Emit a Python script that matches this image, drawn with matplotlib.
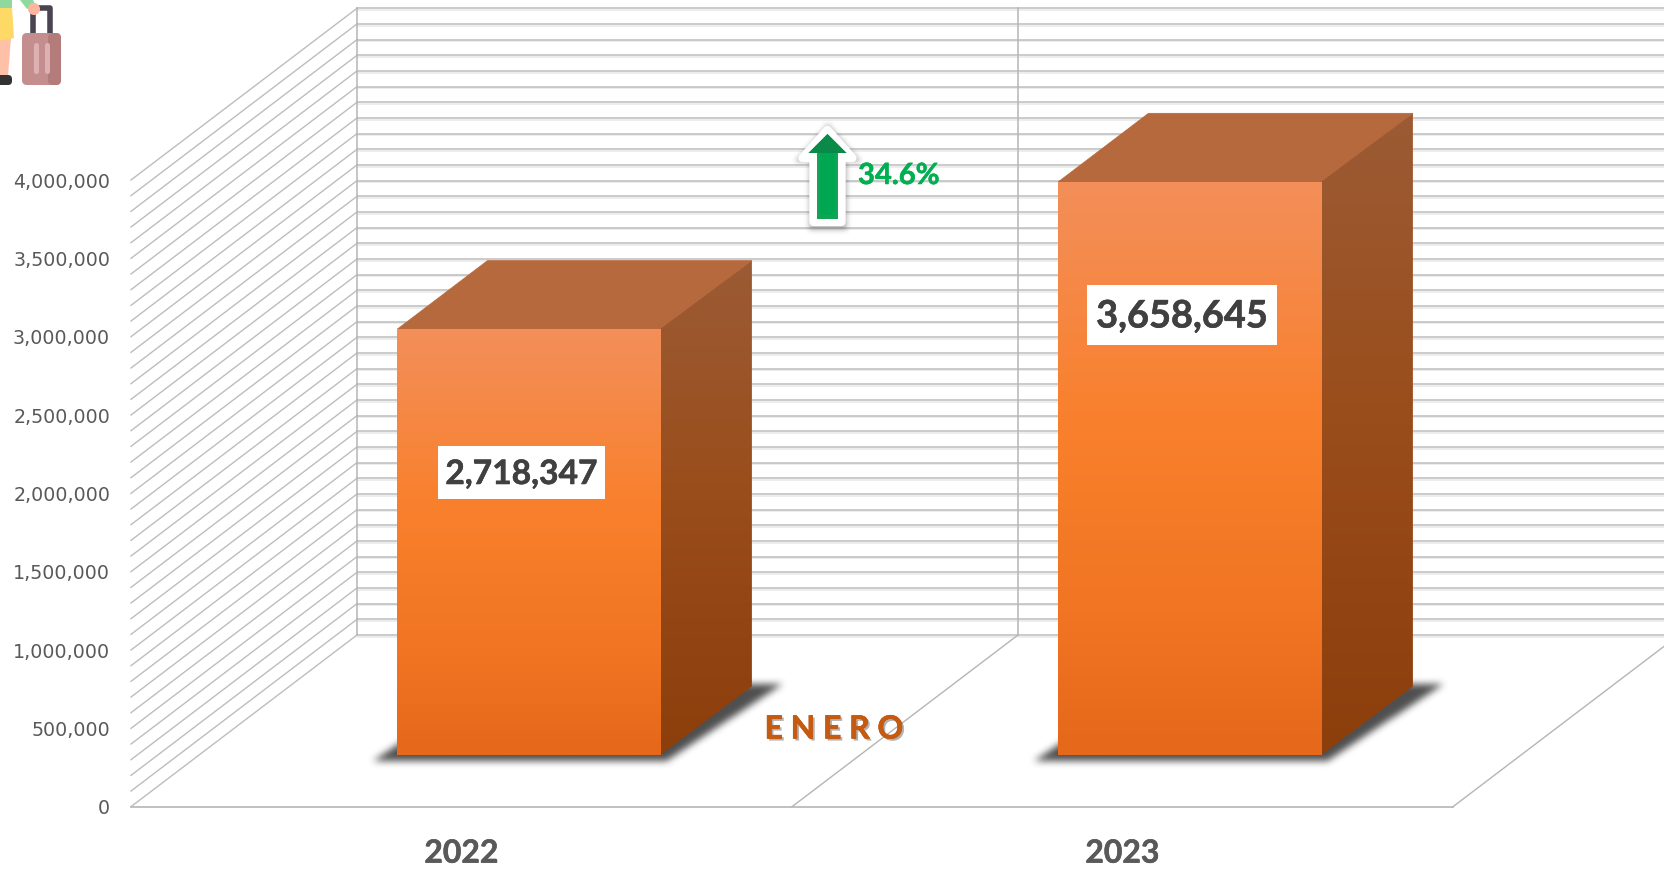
import numpy as np
import matplotlib
matplotlib.use("Agg")
import matplotlib.pyplot as plt
from matplotlib.patches import Polygon, Rectangle, FancyBboxPatch, Circle
from matplotlib.path import Path
from matplotlib.colors import LinearSegmentedColormap
from matplotlib.transforms import Affine2D
import matplotlib.patheffects as pe

years = ["2022", "2023"]
values = [2718347, 3658645]
change_label = "34.6%"
month_label = "E N E R O"
major_ticks = list(range(0, 4000001, 500000))
minor_grid = list(range(0, 4000001, 100000))

W, H = 1665, 869
fig = plt.figure(figsize=(W / 100, H / 100), dpi=100, facecolor="white")
X0, X1, Y0, YT = 131, 1453, 806.7, 180.0
ax = fig.add_axes([X0 / W, 1 - Y0 / H, (X1 - X0) / W, (Y0 - YT) / H])
ax.set_xlim(-0.5, 1.5)
ax.set_ylim(0, 4000000)
ax.set_autoscale_on(False)
ax.patch.set_visible(False)
for s in ax.spines.values():
    s.set_visible(False)

ux = (X1 - X0) / 2          # px per category
uy = (Y0 - YT) / 4000000    # px per value
DX = 226 / ux               # full depth of the floor, category units
DY = 171.7 / uy             # full depth of the floor, value units
px = Affine2D().scale(1 / W, -1 / H).translate(0, 1) + fig.transFigure
bold = [pe.withStroke(linewidth=0.4, foreground="#404040")]


def proj(c, v, t):
    return c + t * DX, v + t * DY


GRID = "#BDBDBD"
GLOW = "#EDEDED"
# walls
for v in minor_grid:
    ax.plot([-0.5, -0.5 + DX], [v, v + DY], color=GRID, lw=1.0, clip_on=False, zorder=1)
    ax.plot([-0.5 + DX, 2.0], [v + DY - 1.6 / uy] * 2, color=GLOW, lw=1.4, clip_on=False, zorder=1)
    ax.plot([-0.5 + DX, 2.0], [v + DY] * 2, color=GRID, lw=1.1, clip_on=False, zorder=1.1)
for c in [-0.5, 0.5]:
    ax.plot([c + DX, c + DX], [DY, 4000000 + DY], color="#B5B5B5", lw=1.1, clip_on=False, zorder=1.2)
# floor
ax.plot([-0.5, 1.5], [0, 0], color="#B5B5B5", lw=1.2, clip_on=False, zorder=1.2)
for c in [0.5, 1.5]:
    ax.plot([c, c + DX], [0, DY], color="#B5B5B5", lw=1.0, clip_on=False, zorder=1.2)

front_cmap = LinearSegmentedColormap.from_list(
    "front", [(0, "#F38F5A"), (0.42, "#F9802C"), (0.75, "#F17522"), (1, "#E5681B")])
side_cmap = LinearSegmentedColormap.from_list(
    "side", [(0, "#9C5B35"), (0.45, "#9A4E1C"), (1, "#8C3E0B")])


def gradient(poly, cmap, z):
    xs, ys = zip(*poly)
    im = ax.imshow(np.linspace(0, 1, 256)[:, None], cmap=cmap, aspect="auto",
                   extent=(min(xs), max(xs), min(ys), max(ys)), origin="upper", zorder=z)
    im.set_clip_box(fig.bbox)
    im.set_clip_path(Polygon(poly, transform=ax.transData))


def box_blur(a, n, passes=3):
    k = np.ones(n) / n
    for _ in range(passes):
        a = np.apply_along_axis(lambda r: np.convolve(r, k, mode="same"), 0, a)
        a = np.apply_along_axis(lambda r: np.convolve(r, k, mode="same"), 1, a)
    return a


def soft_shadow(poly, n, strength, grey, z):
    poly = np.asarray(poly, float)
    xa, xb = int(poly[:, 0].min() - 3 * n), int(poly[:, 0].max() + 3 * n)
    ya, yb = int(poly[:, 1].min() - 3 * n), int(poly[:, 1].max() + 3 * n)
    gx, gy = np.meshgrid(np.arange(xa, xb), np.arange(ya, yb))
    mask = Path(poly).contains_points(np.c_[gx.ravel(), gy.ravel()]).reshape(gx.shape).astype(float)
    mask = box_blur(mask, n)
    rgba = np.zeros(mask.shape + (4,))
    rgba[..., :3] = grey
    rgba[..., 3] = mask * strength
    im = ax.imshow(rgba, extent=(xa, xb, yb, ya), transform=px, aspect="auto", zorder=z)
    im.set_clip_on(False)


half = 0.2
t0, t1 = 0.30, 0.70
nudge = 1.5 / ux
for i, v in enumerate(values):
    l, r = i - half, i + half
    fl = proj(l, 0, t0); fr = proj(r, 0, t0)
    br = proj(r, 0, t1); bl = proj(l, 0, t1)
    tfl = proj(l, v, t0); tfr = proj(r, v, t0)
    tbr = proj(r, v, t1); tbl = proj(l, v, t1)

    # soft contact shadow, in pixels of the figure
    dsp = ax.transData.transform(np.array([fl, fr, br, bl]))
    dsp[:, 1] = H - dsp[:, 1]
    soft_shadow([[dsp[0, 0] - 24, dsp[0, 1] + 5], [dsp[1, 0] + 5, dsp[1, 1] + 5],
                 [dsp[2, 0] + 30, dsp[2, 1] - 3], [dsp[3, 0], dsp[3, 1] - 3]], 7, 0.92, 0.25, 2)

    ax.add_patch(Polygon([tfl, tfr, tbr, tbl], closed=True, fc="#B5693C", ec="#B5693C", lw=0.5, zorder=3, clip_on=False))
    gradient([(fr[0] - nudge, fr[1]), br, tbr, (tfr[0] - nudge, tfr[1])], side_cmap, 3.1)
    gradient([fl, fr, tfr, tfl], front_cmap, 3.2)

ax.set_xticks(range(len(years)), years)
ax.set_yticks(major_ticks, [f"{m:,}" for m in major_ticks])
ax.tick_params(axis="y", length=0, pad=15, labelsize=13.7, labelcolor="#595959")
ax.tick_params(axis="x", length=0, pad=23, labelcolor="#595959")
for lab in ax.get_xticklabels():
    lab.set_fontfamily("Lato"); lab.set_fontweight("bold"); lab.set_fontsize(23)
    lab.set_path_effects([pe.withStroke(linewidth=0.4, foreground="#595959")])

# value labels
label_boxes = [(438, 446, 167, 53, 24.2), (1087, 285, 190, 60, 27.3)]
for v, (bx, by, bw, bh, fs) in zip(values, label_boxes):
    ax.add_patch(Rectangle((bx, by), bw, bh, fc="white", ec="none", transform=px, zorder=4, clip_on=False))
    ax.text(bx + bw / 2, by + bh / 2 + 1.5, f"{v:,}", transform=px, ha="center", va="center",
            family="Lato", fontweight="bold", fontsize=fs, color="#404040", zorder=5, path_effects=bold)

# month caption
ax.text(834, 729, month_label, transform=px, ha="center", va="center", family="Lato",
        fontweight="bold", fontsize=23, color="#C55A11", zorder=5,
        path_effects=[pe.withSimplePatchShadow(offset=(1.5, -1.5), shadow_rgbFace="#555555", alpha=0.45),
                      pe.withStroke(linewidth=0.4, foreground="#C55A11")])


# growth arrow
def arrow(cx, top, bottom, shaft, head, base):
    return [(cx, top), (cx + head, base), (cx + shaft, base), (cx + shaft, bottom),
            (cx - shaft, bottom), (cx - shaft, base), (cx - head, base)]


soft_shadow(arrow(827.5, 123, 229, 19, 33, 161), 5, 0.38, 0.25, 5)
ax.add_patch(Polygon(arrow(827.5, 130, 222, 14, 25, 158), closed=True, fc="white", ec="white", lw=6,
                     joinstyle="round", transform=px, zorder=5.1, clip_on=False))
ax.add_patch(Polygon(arrow(827.5, 134, 219, 10.5, 19, 153), closed=True, fc="#12A355", ec="none",
                     transform=px, zorder=5.2, clip_on=False))
ax.add_patch(Polygon(arrow(827.5, 134, 153, 10.5, 19, 153), closed=True, fc="#0A8A48", ec="none",
                     transform=px, zorder=5.3, clip_on=False))
ax.add_patch(Rectangle((820, 153), 15, 62, fc="#00A651", ec="none", transform=px, zorder=5.3, clip_on=False))
ax.text(858, 176, change_label, transform=px, ha="left", va="center", family="Lato",
        fontweight="bold", fontsize=21, color="#00B050", zorder=5,
        path_effects=[pe.withStroke(linewidth=0.4, foreground="#00B050")])

# traveller icon, cut by the top of the picture
ic = dict(transform=px, clip_on=False, zorder=6)
ax.add_patch(Polygon([(-2, 38), (11, 38), (8, 76), (-2, 76)], fc="#FFC0A8", ec="none", **ic))
ax.add_patch(Polygon([(-2, 7), (12, 7), (14, 38), (-2, 41)], fc="#FFD966", ec="none", **ic))
ax.add_patch(Rectangle((-2, 0), 14, 8, fc="#8FD9A0", ec="none", **ic))
ax.add_patch(FancyBboxPatch((-6, 75), 18, 10, boxstyle="round,pad=0,rounding_size=4", fc="#333333", ec="none", **ic))
ax.plot([33, 33, 36, 50, 50], [34, 12, 8, 8, 34], color="#4A4450", lw=4, solid_capstyle="butt", **ic)
ax.add_patch(Polygon([(20, 0), (33, 0), (36, 6), (27, 9)], fc="#8FD9A0", ec="none", **ic))
ax.add_patch(Circle((34, 9), 6, fc="#FFB6A0", ec="none", **ic))
ax.add_patch(FancyBboxPatch((22, 33), 39, 52, boxstyle="round,pad=0,rounding_size=5", fc="#C48E8E", ec="none", **ic))
ax.add_patch(FancyBboxPatch((48, 33), 13, 52, boxstyle="round,pad=0,rounding_size=5", fc="#B47B7B", ec="none", **ic))
for sx in (34, 45):
    ax.add_patch(FancyBboxPatch((sx, 43), 5, 31, boxstyle="round,pad=0,rounding_size=2.5", fc="#DDB1B1", ec="none", **ic))

ax.set_xlim(-0.5, 1.5)
ax.set_ylim(0, 4000000)
fig.savefig("out.png", dpi=100, facecolor="white")
